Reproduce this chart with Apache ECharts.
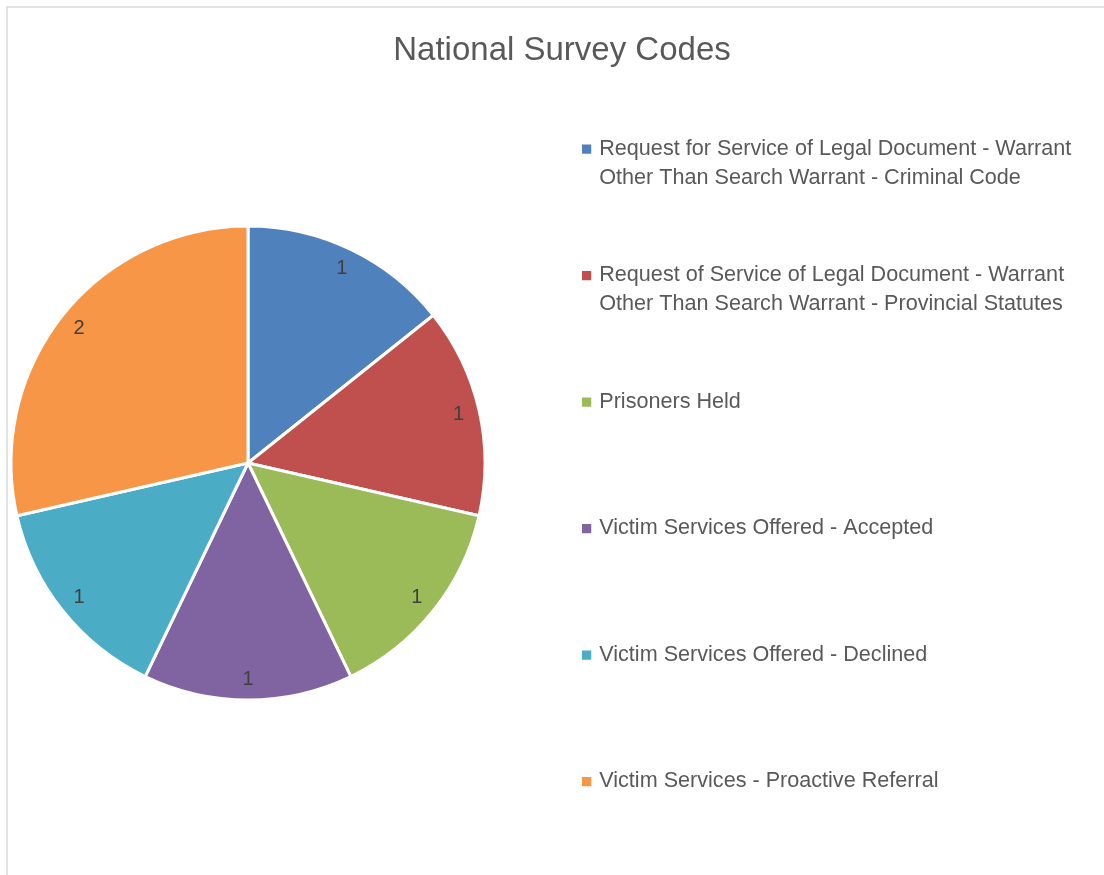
<!DOCTYPE html>
<html>
<head>
<meta charset="utf-8">
<script src="https://cdn.jsdelivr.net/npm/echarts@6/dist/echarts.min.js"></script>
<style>
  html, body { margin: 0; padding: 0; background: #ffffff; }
  #chart { width: 1104px; height: 875px; }
</style>
</head>
<body>
<div id="chart"></div>
<script>
// ---- data ----
const chartTitle = 'National Survey Codes';
const categories = [
  'Request for Service of Legal Document - Warrant\nOther Than Search Warrant - Criminal Code',
  'Request of Service of Legal Document - Warrant\nOther Than Search Warrant - Provincial Statutes',
  'Prisoners Held',
  'Victim Services Offered - Accepted',
  'Victim Services Offered - Declined',
  'Victim Services - Proactive Referral'
];
const values = [1, 1, 1, 1, 1, 2];
const colors = ['#4F81BD', '#C0504D', '#9BBB59', '#8064A2', '#4BACC6', '#F79646'];

// ---- layout ----
const FONT = '"Liberation Sans", Arial, sans-serif';
const LINE_H = 29;
const pieCenter = [248, 463];
const pieRadius = 237;
const ICON = 11.25;

const pieData = categories.map((name, i) => ({ name: name, value: values[i] }));

const chart = echarts.init(document.getElementById('chart'), null, { renderer: 'canvas' });
chart.setOption({
  animation: false,
  backgroundColor: '#ffffff',
  color: colors,
  graphic: [{
    type: 'rect',
    silent: true,
    shape: { x: 7, y: 7, width: 3000, height: 3000 },
    style: { fill: 'none', stroke: '#d9d9d9', lineWidth: 1.5 }
  }],
  title: {
    text: chartTitle,
    left: 562,
    top: 34,
    padding: 0,
    textAlign: 'center',
    textStyle: { fontFamily: FONT, fontSize: 33, fontWeight: 'normal', color: '#595959' }
  },
  legend: {
    orient: 'vertical',
    left: 580,
    top: 149 - LINE_H * 1.5,
    padding: 0,
    itemGap: 126.5 - LINE_H * 3,
    itemWidth: ICON,
    itemHeight: ICON,
    icon: 'rect',
    selectedMode: false,
    data: categories,
    formatter: function (name) {
      // keep the first text line level with the marker
      return name.indexOf('\n') >= 0 ? ' \n' + name : ' \n' + name + '\n ';
    },
    textStyle: {
      fontFamily: FONT, fontSize: 21.6, lineHeight: LINE_H, color: '#595959',
      padding: [0, 0, 0, 2]
    }
  },
  series: [
    {
      type: 'pie',
      center: pieCenter,
      radius: pieRadius,
      startAngle: 90,
      clockwise: true,
      silent: true,
      data: pieData,
      itemStyle: { borderColor: '#ffffff', borderWidth: 3 },
      label: { show: false },
      labelLine: { show: false }
    },
    {
      type: 'pie',
      center: pieCenter,
      radius: [189, pieRadius],
      startAngle: 90,
      clockwise: true,
      silent: true,
      data: pieData,
      itemStyle: { color: 'rgba(0,0,0,0)', borderWidth: 0 },
      label: {
        show: true,
        position: 'inside',
        formatter: '{c}',
        fontFamily: FONT,
        fontSize: 20,
        color: '#404040'
      },
      labelLine: { show: false }
    }
  ]
});
</script>
</body>
</html>
